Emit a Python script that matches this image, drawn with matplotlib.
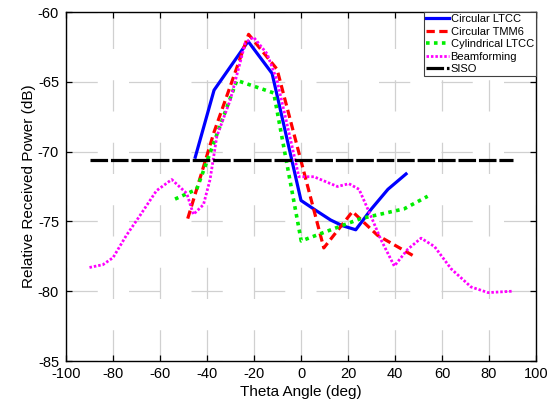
"""
Relative received power vs theta angle for several antenna configurations
"""

import matplotlib
matplotlib.use('Agg')
import matplotlib.pyplot as plt

plt.rcParams['font.family'] = ['Liberation Sans', 'DejaVu Sans']
plt.rcParams['axes.unicode_minus'] = False

# Circular LTCC
ltcc_theta = [-45, -37, -22.5, -12.3, 0, 6.2, 12.6, 17.5, 23.3, 30, 37, 44.7]
ltcc_power = [-70.4, -65.6, -62.1, -64.4, -73.5, -74.2, -74.9, -75.3, -75.6, -74.1, -72.7, -71.6]

# Circular TMM6
tmm6_theta = [-48.2, -37, -22.3, -10.2, 9.7, 21.9, 32.6, 48.2]
tmm6_power = [-74.8, -68.6, -61.6, -64.1, -76.9, -74.3, -76.0, -77.5]

# Cylindrical LTCC
cyl_theta = [-53.6, -44.4, -27.3, -11.6, 0.1, 25.4, 43.9, 53.9]
cyl_power = [-73.4, -72.7, -64.9, -65.8, -76.4, -74.8, -74.1, -73.2]

# Beamforming
bf_theta = [-90, -84.3, -80, -74.3, -68.6, -61.5, -55, -48.6, -45.8, -41.5, -38.7,
            -35.8, -30.1, -23.7, -20.2, -14.4, -10.2, -4.5, -0.9, 5.5, 11.2, 15.5,
            20.4, 24.7, 29.7, 34, 39.7, 45.4, 51.1, 56.8, 63.9, 72.4, 79.6, 90]
bf_power = [-78.3, -78.1, -77.6, -76.0, -74.6, -72.8, -72.0, -73.0, -74.5, -73.8, -72.0,
            -68.9, -66.3, -62.2, -61.8, -63.0, -64.9, -69.1, -71.8, -71.8, -72.2, -72.5,
            -72.3, -72.7, -74.6, -76.3, -78.2, -77.0, -76.2, -76.8, -78.4, -79.7, -80.1, -80.0]

# SISO reference
siso_theta = [-90, 90]
siso_power = [-70.6, -70.6]

labels = ['Circular LTCC', 'Circular TMM6', 'Cylindrical LTCC', 'Beamforming', 'SISO']

fig = plt.figure(figsize=(5.53, 4.04), dpi=100)
ax = fig.add_axes([66 / 553, 1 - 361 / 404, 470 / 553, 349 / 404])

ax.plot(ltcc_theta, ltcc_power, '-', color='#0000ff', linewidth=2.3, label=labels[0])
ax.plot(tmm6_theta, tmm6_power, color='#ff0000', linewidth=2.3,
        linestyle=(0, (2.6, 1.4)), label=labels[1])
ax.plot(cyl_theta, cyl_power, color='#00ee00', linewidth=2.6,
        linestyle=(0, (1.0, 1.2)), dash_capstyle='butt', label=labels[2])
ax.plot(bf_theta, bf_power, color='#ff00ff', linewidth=2.0,
        linestyle=(0, (0.9, 0.7)), label=labels[3])
ax.plot(siso_theta, siso_power, color='black', linewidth=2.3,
        linestyle=(0, (5.5, 0.9)), label=labels[4])

ax.set_xlim(-100, 100)
ax.set_ylim(-85, -60)
ax.set_xticks(range(-100, 101, 20))
ax.set_yticks(range(-85, -59, 5))

ax.grid(True, color='#d0d0d0', linewidth=0.9, linestyle=(0, (25, 25)))
ax.set_axisbelow(True)
ax.tick_params(direction='in', length=4, width=0.9, top=True, right=True,
               labelsize=10.5, colors='black')
ax.tick_params(axis='x', pad=4)
ax.tick_params(axis='y', pad=5)
for side in ax.spines.values():
    side.set_linewidth(1.0)

ax.set_xlabel('Theta Angle (deg)', fontsize=11, labelpad=3)
ax.set_ylabel('Relative Received Power (dB)', fontsize=11, labelpad=1)

leg = ax.legend(loc='upper right', fontsize=8, borderaxespad=0, handlelength=2.1,
                handletextpad=0.1, labelspacing=0.22, borderpad=0.2,
                fancybox=False, framealpha=1, edgecolor='#404040')
leg.get_frame().set_linewidth(0.8)

plt.savefig('out.png', dpi=100)
plt.close()
